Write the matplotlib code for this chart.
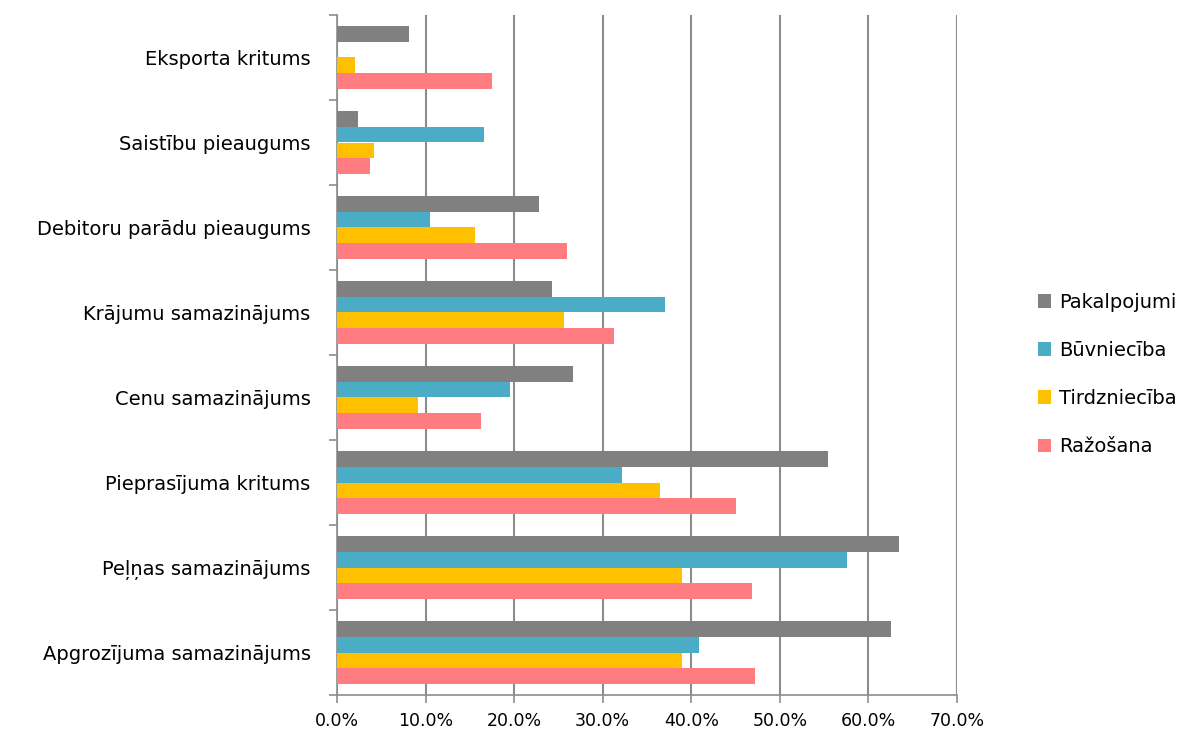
import numpy as np
import matplotlib.pyplot as plt

# categories, bottom to top
categories = ["Apgrozījuma samazinājums", "Peļņas samazinājums", "Pieprasījuma kritums",
              "Cenu samazinājums", "Krājumu samazinājums", "Debitoru parādu pieaugums",
              "Saistību pieaugums", "Eksporta kritums"]

pakalpojumi = [62.5, 63.5, 55.4, 26.6, 24.3, 22.8, 2.4, 8.1]
buvnieciba = [40.9, 57.6, 32.2, 19.5, 37.0, 10.5, 16.6, 0.0]
tirdznieciba = [38.9, 38.9, 36.5, 9.1, 25.6, 15.6, 4.2, 2.0]
razosana = [47.2, 46.8, 45.0, 16.3, 31.3, 26.0, 3.7, 17.5]

series = ["Pakalpojumi", "Būvniecība", "Tirdzniecība", "Ražošana"]
colors = ["#808080", "#4BACC6", "#FFC000", "#FF7C80"]
xticks = [0, 10, 20, 30, 40, 50, 60, 70]

fig = plt.figure(figsize=(11.9, 7.4), dpi=100)
ax = fig.add_axes([337/1190, 45/740, 620/1190, 680/740])

y = np.arange(len(categories))
h = 0.188
offsets = [1.5*h, 0.5*h, -0.5*h, -1.5*h]
for vals, off, col, name in zip([pakalpojumi, buvnieciba, tirdznieciba, razosana], offsets, colors, series):
    ax.barh(y + off, vals, height=h, color=col, label=name, zorder=3)

ax.set_xlim(0, 70)
ax.set_ylim(-0.5, len(categories) - 0.5)
ax.set_xticks(xticks)
ax.set_xticklabels([f"{t:.1f}%" for t in xticks], fontsize=12.5)
ax.set_yticks(y)
ax.set_yticklabels(categories, fontsize=14)
ax.set_yticks(np.arange(-0.5, len(categories)), minor=True)
ax.tick_params(axis='y', which='major', length=0, pad=19)
ax.tick_params(axis='y', which='minor', length=6, color='#8c8c8c', width=1.2)
ax.tick_params(axis='x', length=6, color='#8c8c8c', width=1.2, pad=6)

ax.grid(axis='x', color='#8c8c8c', linewidth=1.5, zorder=0)
for s in ['top', 'right']:
    ax.spines[s].set_visible(False)
for s in ['left', 'bottom']:
    ax.spines[s].set_color('#8c8c8c')
    ax.spines[s].set_linewidth(1.2)

handles, labels = ax.get_legend_handles_labels()
fig.legend(handles, labels, loc='center left', bbox_to_anchor=(1020/1190, 0.494),
           frameon=False, fontsize=14, labelspacing=1.5, handlelength=0.7,
           handleheight=0.7, handletextpad=0.4)

fig.savefig("out.png", dpi=100)
